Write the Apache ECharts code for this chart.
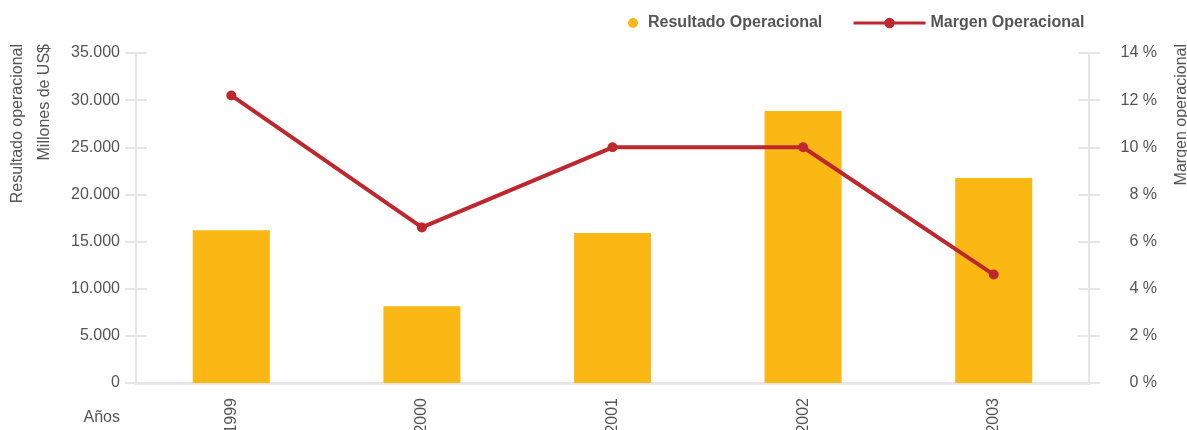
<!DOCTYPE html>
<html>
<head>
	<meta charset="UTF-8">
	<title>Resultado operacional</title>
	<style type="text/css">
		html, body {
			margin: 0;
			padding: 0;
			background: #fff;
		}
		#main {
			width: 1187px;
			height: 430px;
		}
	</style>
</head>
<body>
	<div id="main"></div>
	<script src="https://cdn.jsdelivr.net/npm/echarts@6/dist/echarts.min.js" charset="utf-8"></script>
	<script type="text/javascript">
		// años
		var anios = ['1999', '2000', '2001', '2002', '2003'];
		// resultado operacional, millones de US$
		var resultado = [16200, 8150, 15900, 28850, 21750];
		// margen operacional, %
		var margen = [12.2, 6.6, 10.0, 10.0, 4.6];

		var gris = '#e6e6e6';
		var texto = '#555';
		var fuente = 'Liberation Sans, Arial, sans-serif';

		function miles(v) {
			return String(v).replace(/\B(?=(\d{3})+(?!\d))/g, '.');
		}

		var myChart = echarts.init(document.getElementById('main'));
		var option = {
			animation: false,
			textStyle: { fontFamily: fuente },
			grid: {
				left: 136,
				right: 98,
				top: 53,
				bottom: 47,
				outerBoundsMode: 'none'
			},
			legend: [{
				data: ['Resultado Operacional'],
				left: 623,
				top: 10,
				icon: 'circle',
				itemWidth: 10,
				itemHeight: 10,
				textStyle: { color: texto, fontSize: 16, fontWeight: 'bold', padding: [0, 0, 0, 5] }
			}, {
				data: ['Margen Operacional'],
				left: 847,
				top: 10,
				itemWidth: 72,
				itemHeight: 13,
				lineStyle: { width: 3 },
				textStyle: { color: texto, fontSize: 16, fontWeight: 'bold' }
			}],
			graphic: [{
				type: 'text', x: 18, y: 44, rotation: Math.PI / 2,
				style: { text: 'Resultado operacional', fill: texto, font: '16px ' + fuente, textAlign: 'right', textVerticalAlign: 'middle' }
			}, {
				type: 'text', x: 45, y: 44, rotation: Math.PI / 2,
				style: { text: 'Millones de US$', fill: texto, font: '16px ' + fuente, textAlign: 'right', textVerticalAlign: 'middle' }
			}, {
				type: 'text', x: 1182, y: 44, rotation: Math.PI / 2,
				style: { text: 'Margen operacional', fill: texto, font: '16px ' + fuente, textAlign: 'right', textVerticalAlign: 'middle' }
			}],
			xAxis: {
				type: 'category',
				data: anios,
				name: 'Años',
				nameLocation: 'start',
				nameGap: 16,
				nameTextStyle: { color: texto, fontSize: 16, verticalAlign: 'top', padding: [27, 0, 0, 0] },
				axisLine: { lineStyle: { color: gris, width: 3 } },
				axisTick: { show: false },
				axisLabel: { color: texto, fontSize: 16, rotate: 90, margin: 15 }
			},
			yAxis: [{
				type: 'value', position: 'left', min: 0, max: 35000, interval: 5000,
				axisLine: { show: true, lineStyle: { color: gris, width: 2 } },
				axisTick: { show: true, length: 11, lineStyle: { color: gris, width: 2 } },
				axisLabel: { color: texto, fontSize: 16, margin: 16, formatter: miles },
				splitLine: { show: false }
			}, {
				type: 'value', position: 'right', min: 0, max: 14, interval: 2,
				axisLine: { show: true, lineStyle: { color: gris, width: 2 } },
				axisTick: { show: true, length: 11, lineStyle: { color: gris, width: 2 } },
				axisLabel: { color: texto, fontSize: 16, margin: 68, align: 'right', formatter: '{value} %' },
				splitLine: { show: false }
			}, {
				// ticks hacia dentro, izquierda
				type: 'value', position: 'left', min: 0, max: 35000, interval: 5000,
				axisLine: { show: false },
				axisTick: { show: true, inside: true, length: 11, lineStyle: { color: gris, width: 2 } },
				axisLabel: { show: false },
				splitLine: { show: false }
			}, {
				// ticks hacia dentro, derecha
				type: 'value', position: 'right', min: 0, max: 14, interval: 2,
				axisLine: { show: false },
				axisTick: { show: true, inside: true, length: 11, lineStyle: { color: gris, width: 2 } },
				axisLabel: { show: false },
				splitLine: { show: false }
			}],
			series: [{
				name: 'Resultado Operacional',
				type: 'bar',
				yAxisIndex: 0,
				barWidth: 77,
				data: resultado,
				itemStyle: { color: '#FBB815' }
			}, {
				name: 'Margen Operacional',
				type: 'line',
				yAxisIndex: 1,
				data: margen,
				symbol: 'circle',
				symbolSize: 10,
				itemStyle: { color: '#BE272D' },
				lineStyle: { color: '#BE272D', width: 4 }
			}]
		};
		myChart.setOption(option);
	</script>
</body>
</html>
